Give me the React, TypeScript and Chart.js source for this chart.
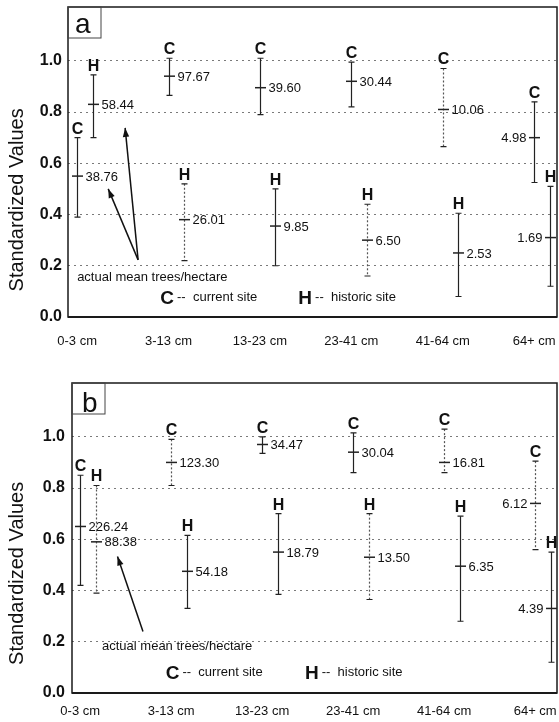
import React, { useEffect, useRef } from 'react';
import { Chart, registerables } from 'chart.js';

Chart.register(...registerables);

// ---------- data ----------
const categories = ['0-3 cm', '3-13 cm', '13-23 cm', '23-41 cm', '41-64 cm', '64+ cm'];
const yTickValues = [0, 0.2, 0.4, 0.6, 0.8, 1.0];

// panel a (current = C, historic = H)
const aCurMean = [0.55, 0.94, 0.895, 0.92, 0.81, 0.70];
const aCurLow = [0.39, 0.865, 0.79, 0.82, 0.665, 0.525];
const aCurHigh = [0.70, 1.01, 1.01, 0.995, 0.97, 0.84];
const aCurLabels = ['38.76', '97.67', '39.60', '30.44', '10.06', '4.98'];
const aHisMean = [0.83, 0.38, 0.355, 0.30, 0.25, 0.31];
const aHisLow = [0.70, 0.22, 0.20, 0.16, 0.08, 0.12];
const aHisHigh = [0.945, 0.52, 0.50, 0.44, 0.405, 0.51];
const aHisLabels = ['58.44', '26.01', '9.85', '6.50', '2.53', '1.69'];

// panel b
const bCurMean = [0.65, 0.90, 0.97, 0.94, 0.90, 0.74];
const bCurLow = [0.42, 0.81, 0.935, 0.86, 0.86, 0.56];
const bCurHigh = [0.85, 0.99, 1.0, 1.015, 1.03, 0.905];
const bCurLabels = ['226.24', '123.30', '34.47', '30.04', '16.81', '6.12'];
const bHisMean = [0.59, 0.475, 0.55, 0.53, 0.495, 0.33];
const bHisLow = [0.39, 0.33, 0.385, 0.365, 0.28, 0.12];
const bHisHigh = [0.81, 0.615, 0.70, 0.70, 0.69, 0.55];
const bHisLabels = ['88.38', '54.18', '18.79', '13.50', '6.35', '4.39'];

// line style flags (dotted error bars)
const aCurDotted = [false, false, false, false, true, false];
const aHisDotted = [false, true, false, true, false, false];
const bCurDotted = [false, true, false, false, true, true];
const bHisDotted = [true, false, false, true, false, false];

const FONT = "'Liberation Sans', Arial, Helvetica, sans-serif";
const H_OFFSET = 0.17;

type Pt = { x: number; y: number };
type PanelSpec = {
  tag: string;
  curMean: number[]; curLow: number[]; curHigh: number[]; curLabels: string[]; curDotted: boolean[];
  hisMean: number[]; hisLow: number[]; hisHigh: number[]; hisLabels: string[]; hisDotted: boolean[];
  padTop: number; yAxisW: number; xAxisH: number; xMin: number; xMax: number; xPad: number; yPad: number;
  note: Pt; arrowTail: Pt; arrowTips: Pt[]; legC: Pt; legH: Pt; titleY: number;
  tagDx: number; tagBase: number;
};

const specA: PanelSpec = {
  tag: 'a',
  curMean: aCurMean, curLow: aCurLow, curHigh: aCurHigh, curLabels: aCurLabels, curDotted: aCurDotted,
  hisMean: aHisMean, hisLow: aHisLow, hisHigh: aHisHigh, hisLabels: aHisLabels, hisDotted: aHisDotted,
  padTop: 7, yAxisW: 68, xAxisH: 44, xMin: -0.1, xMax: 5.25, xPad: 17, yPad: 6,
  note: { x: 0, y: 0.153 }, arrowTail: { x: 0.667, y: 0.223 },
  arrowTips: [{ x: 0.34, y: 0.50 }, { x: 0.525, y: 0.738 }],
  legC: { x: 0.91, y: 0.074 }, legH: { x: 2.42, y: 0.074 }, titleY: 0.457,
  tagDx: 7, tagBase: 26,
};

const specB: PanelSpec = {
  tag: 'b',
  curMean: bCurMean, curLow: bCurLow, curHigh: bCurHigh, curLabels: bCurLabels, curDotted: bCurDotted,
  hisMean: bHisMean, hisLow: bHisLow, hisHigh: bHisHigh, hisLabels: bHisLabels, hisDotted: bHisDotted,
  padTop: 22, yAxisW: 72, xAxisH: 29, xMin: -0.09, xMax: 5.24, xPad: 11, yPad: 7,
  note: { x: 0.24, y: 0.18 }, arrowTail: { x: 0.69, y: 0.24 },
  arrowTips: [{ x: 0.41, y: 0.533 }],
  legC: { x: 0.94, y: 0.078 }, legH: { x: 2.47, y: 0.078 }, titleY: 0.467,
  tagDx: 10, tagBase: 29,
};

function makeDecor(spec: PanelSpec) {
  return {
    id: 'decor',
    afterDraw(chart: any) {
      const ctx: CanvasRenderingContext2D = chart.ctx;
      const xs = chart.scales.x;
      const ys = chart.scales.y;
      const ca = chart.chartArea;
      const px = (v: number) => xs.getPixelForValue(v);
      const py = (v: number) => ys.getPixelForValue(v);
      ctx.save();

      // frame
      ctx.setLineDash([]);
      ctx.strokeStyle = '#1a1a1a';
      ctx.lineWidth = 1.5;
      ctx.strokeRect(ca.left, ca.top, ca.right - ca.left, ca.bottom - ca.top);
      ctx.lineWidth = 2;
      ctx.beginPath();
      ctx.moveTo(ca.left, ca.bottom);
      ctx.lineTo(ca.right, ca.bottom);
      ctx.stroke();

      // panel tag box
      ctx.lineWidth = 1;
      ctx.strokeStyle = '#444';
      ctx.strokeRect(ca.left, ca.top, 33, 31);
      ctx.fillStyle = '#111';
      ctx.font = `28px ${FONT}`;
      ctx.textAlign = 'left';
      ctx.textBaseline = 'alphabetic';
      ctx.fillText(spec.tag, ca.left + spec.tagDx, ca.top + spec.tagBase);

      // y title
      ctx.save();
      ctx.translate(17, py(spec.titleY));
      ctx.rotate(-Math.PI / 2);
      ctx.font = `20px ${FONT}`;
      ctx.textAlign = 'center';
      ctx.textBaseline = 'middle';
      ctx.fillStyle = '#111';
      ctx.fillText('Standardized Values', 0, 0);
      ctx.restore();

      const drawSeries = (
        mean: number[], low: number[], high: number[], labels: string[],
        dotted: boolean[], offset: number, letter: string,
      ) => {
        const n = mean.length;
        for (let i = 0; i < n; i++) {
          const x = Math.round(px(i + offset)) + 0.5;
          const yM = py(mean[i]);
          const yL = py(low[i]);
          const yH = py(high[i]);
          ctx.lineWidth = 1.2;
          ctx.strokeStyle = dotted[i] ? '#555' : '#222';
          ctx.setLineDash(dotted[i] ? [2, 2] : []);
          ctx.beginPath();
          ctx.moveTo(x, yH);
          ctx.lineTo(x, yL);
          ctx.stroke();
          ctx.setLineDash([]);
          ctx.strokeStyle = '#222';
          ctx.beginPath();
          ctx.moveTo(x - 3, yH); ctx.lineTo(x + 3, yH);
          ctx.moveTo(x - 3, yL); ctx.lineTo(x + 3, yL);
          ctx.stroke();
          ctx.lineWidth = 1.5;
          ctx.beginPath();
          ctx.moveTo(x - 5.5, yM); ctx.lineTo(x + 5.5, yM);
          ctx.stroke();

          // letter
          ctx.fillStyle = '#111';
          ctx.font = `bold 16px ${FONT}`;
          ctx.textAlign = 'center';
          ctx.textBaseline = 'alphabetic';
          ctx.fillText(letter, x, yH - 4);

          // value label
          ctx.font = `13px ${FONT}`;
          ctx.textBaseline = 'middle';
          if (i === n - 1) {
            ctx.textAlign = 'right';
            ctx.fillText(labels[i], x - 8, yM + 1);
          } else {
            ctx.textAlign = 'left';
            ctx.fillText(labels[i], x + 8, yM + 1);
          }
        }
      };
      drawSeries(spec.curMean, spec.curLow, spec.curHigh, spec.curLabels, spec.curDotted, 0, 'C');
      drawSeries(spec.hisMean, spec.hisLow, spec.hisHigh, spec.hisLabels, spec.hisDotted, H_OFFSET, 'H');

      // annotation text
      ctx.fillStyle = '#111';
      ctx.font = `13px ${FONT}`;
      ctx.textAlign = 'left';
      ctx.textBaseline = 'middle';
      ctx.fillText('actual mean trees/hectare', px(spec.note.x), py(spec.note.y));

      // arrows
      const tx = px(spec.arrowTail.x);
      const ty = py(spec.arrowTail.y);
      ctx.strokeStyle = '#111';
      ctx.lineWidth = 1.5;
      spec.arrowTips.forEach((t) => {
        const hx = px(t.x);
        const hy = py(t.y);
        ctx.beginPath();
        ctx.moveTo(tx, ty);
        ctx.lineTo(hx, hy);
        ctx.stroke();
        const ang = Math.atan2(hy - ty, hx - tx);
        const L = 9;
        const W = 3.2;
        ctx.beginPath();
        ctx.moveTo(hx, hy);
        ctx.lineTo(hx - L * Math.cos(ang) + W * Math.sin(ang), hy - L * Math.sin(ang) - W * Math.cos(ang));
        ctx.lineTo(hx - L * Math.cos(ang) - W * Math.sin(ang), hy - L * Math.sin(ang) + W * Math.cos(ang));
        ctx.closePath();
        ctx.fill();
      });

      // legend entries
      const legend = (p: Pt, letter: string, text: string) => {
        const x = px(p.x);
        const y = py(p.y);
        ctx.font = `bold 19px ${FONT}`;
        ctx.textAlign = 'left';
        ctx.textBaseline = 'middle';
        const w = ctx.measureText(letter).width;
        ctx.fillText(letter, x, y + 1);
        ctx.font = `13px ${FONT}`;
        ctx.fillText('--  ' + text, x + w + 3, y - 1);
      };
      legend(spec.legC, 'C', 'current site');
      legend(spec.legH, 'H', 'historic site');

      ctx.restore();
    },
  };
}

function Panel({ spec, top }: { spec: PanelSpec; top: number }) {
  const ref = useRef<HTMLCanvasElement>(null);
  useEffect(() => {
    const canvas = ref.current;
    if (!canvas) return;
    const chart = new Chart(canvas, {
      type: 'scatter',
      data: {
        datasets: [
          {
            label: 'current site',
            data: spec.curMean.map((v, i) => ({ x: i, y: v })),
            pointRadius: 0,
            showLine: false,
          },
          {
            label: 'historic site',
            data: spec.hisMean.map((v, i) => ({ x: i + H_OFFSET, y: v })),
            pointRadius: 0,
            showLine: false,
          },
        ],
      },
      options: {
        responsive: false,
        animation: false,
        devicePixelRatio: 1,
        layout: { padding: { top: spec.padTop, right: 2, left: 0, bottom: 0 } },
        plugins: { legend: { display: false }, tooltip: { enabled: false } },
        scales: {
          x: {
            type: 'linear',
            min: spec.xMin,
            max: spec.xMax,
            afterBuildTicks: (s: any) => {
              s.ticks = categories.map((_, i) => ({ value: i }));
            },
            afterFit: (s: any) => {
              s.height = spec.xAxisH;
              s.paddingLeft = 0;
              s.paddingRight = 0;
              s.paddingTop = 0;
              s.paddingBottom = 0;
            },
            grid: { display: false, drawTicks: false },
            border: { display: false },
            ticks: {
              padding: spec.xPad,
              autoSkip: false,
              maxRotation: 0,
              color: '#111',
              font: { family: FONT, size: 13 },
              callback: (v: any) => categories[Math.round(Number(v))] ?? '',
            },
          },
          y: {
            type: 'linear',
            min: 0,
            max: 1.21,
            afterBuildTicks: (s: any) => {
              s.ticks = yTickValues.map((v) => ({ value: v }));
            },
            afterFit: (s: any) => {
              s.width = spec.yAxisW;
              s.paddingLeft = 0;
              s.paddingRight = 0;
              s.paddingTop = 0;
              s.paddingBottom = 0;
            },
            grid: { color: '#7a7a7a', lineWidth: 1, drawTicks: false },
            border: { display: false, dash: [2, 4] },
            ticks: {
              padding: spec.yPad,
              color: '#111',
              font: { family: FONT, size: 16, weight: 'bold' },
              callback: (v: any) => Number(v).toFixed(1),
            },
          },
        },
      },
      plugins: [makeDecor(spec)],
    } as any);
    return () => chart.destroy();
  }, [spec]);
  return (
    <canvas
      ref={ref}
      width={559}
      height={361}
      style={{ position: 'absolute', left: 0, top, width: 559, height: 361, display: 'block' }}
    />
  );
}

export default function App() {
  return (
    <div style={{ position: 'absolute', left: 0, top: 0, width: 559, height: 722, background: '#fff' }}>
      <Panel spec={specA} top={0} />
      <Panel spec={specB} top={361} />
    </div>
  );
}
